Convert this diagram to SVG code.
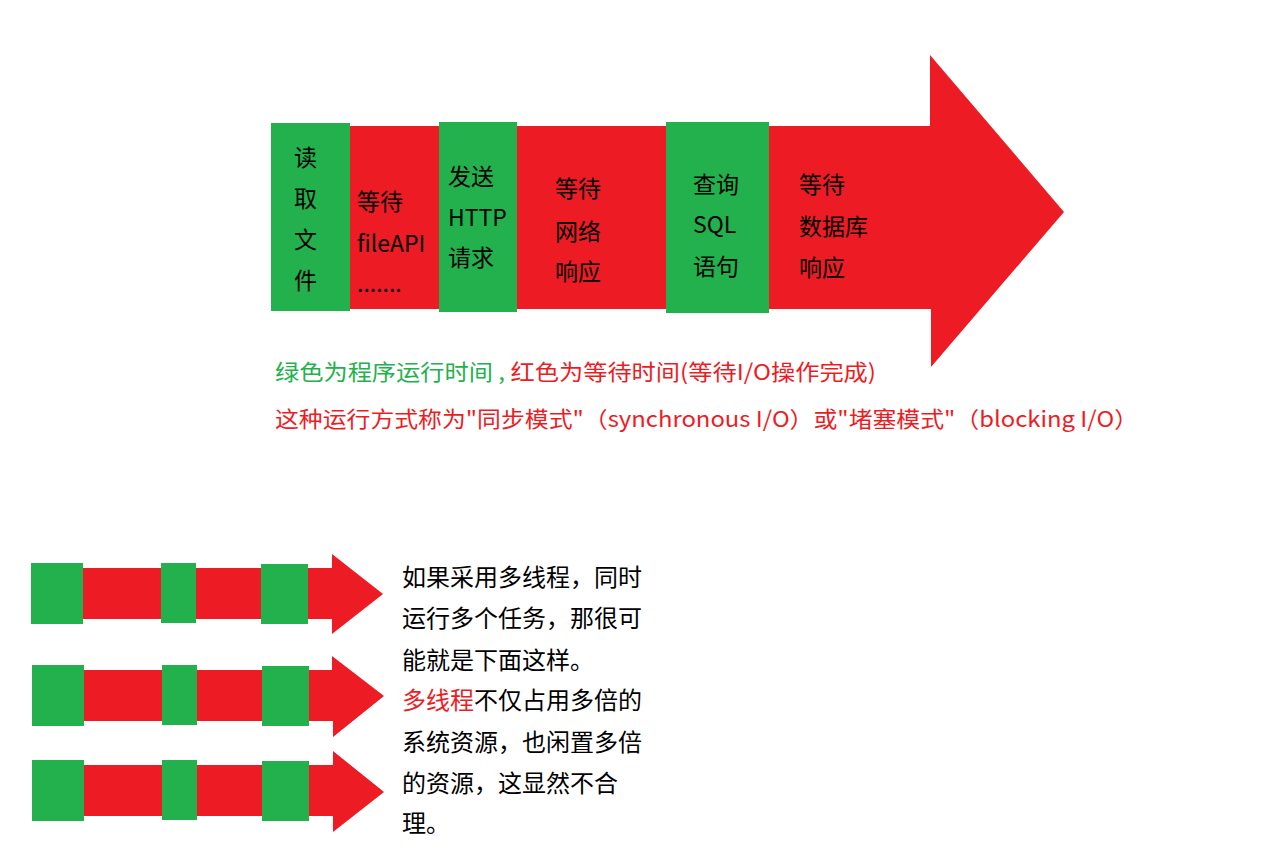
<svg xmlns="http://www.w3.org/2000/svg" width="1267" height="858" viewBox="0 0 1267 858">
<style>
.r{fill:#ED1C24}
.g{fill:#22B14C}
text{font-family:"Noto Sans CJK SC","Microsoft YaHei",sans-serif}
.t{font-size:23px;fill:#000}
.s{font-size:22px}
.n{font-size:24px;fill:#000}
</style>
<rect width="1267" height="858" fill="#fff"/>
<g id="main-arrow">
<polygon class="r" points="349,126 930,126 930,55 1064,212 931,367 931,309 349,309"/>
</g>
<g id="read-file">
<rect class="g" x="271" y="123" width="79" height="188"/>
<text class="t" x="294" y="166">读</text>
<text class="t" x="294" y="207">取</text>
<text class="t" x="294" y="248">文</text>
<text class="t" x="294" y="289">件</text>
</g>
<g id="wait-file">
<text class="t" x="357" y="210">等待</text>
<text class="t" x="357" y="252">fileAPI</text>
<text class="t" x="357" y="292">.......</text>
</g>
<g id="send-http">
<rect class="g" x="439" y="122" width="78" height="190"/>
<text class="t" x="448" y="185">发送</text>
<text class="t" x="448" y="226">HTTP</text>
<text class="t" x="448" y="266">请求</text>
</g>
<g id="wait-net">
<text class="t" x="555" y="197">等待</text>
<text class="t" x="555" y="240">网络</text>
<text class="t" x="555" y="280">响应</text>
</g>
<g id="query-sql">
<rect class="g" x="666" y="122" width="103" height="191"/>
<text class="t" x="693" y="193">查询</text>
<text class="t" x="693" y="233">SQL</text>
<text class="t" x="693" y="275">语句</text>
</g>
<g id="wait-db">
<text class="t" x="799" y="193">等待</text>
<text class="t" x="799" y="235">数据库</text>
<text class="t" x="799" y="276">响应</text>
</g>
<g id="caption">
<text class="s" x="275" y="380" textLength="601" lengthAdjust="spacingAndGlyphs"><tspan fill="#22B14C">绿色为程序运行时间 , </tspan><tspan fill="#ED1C24">红色为等待时间(等待I/O操作完成)</tspan></text>
<text class="s" x="275" y="427" fill="#ED1C24" textLength="863" lengthAdjust="spacingAndGlyphs">这种运行方式称为"同步模式"（synchronous I/O）或"堵塞模式"（blocking I/O）</text>
</g>
<g id="thread-1">
<polygon class="r" points="83,568 332,568 332,554 383,594 332,634 332,619 83,619"/>
<rect class="g" x="31" y="563" width="52" height="61"/>
<rect class="g" x="161" y="563" width="35" height="60"/>
<rect class="g" x="261" y="564" width="47" height="60"/>
</g>
<g id="thread-2">
<polygon class="r" points="84,670 332,670 332,656 384,696 333,737 333,721 84,721"/>
<rect class="g" x="32" y="665" width="52" height="61"/>
<rect class="g" x="162" y="665" width="35" height="60"/>
<rect class="g" x="262" y="666" width="47" height="60"/>
</g>
<g id="thread-3">
<polygon class="r" points="84,765 333,765 333,751 384,792 333,832 333,816 84,816"/>
<rect class="g" x="32" y="760" width="52" height="61"/>
<rect class="g" x="162" y="760" width="35" height="60"/>
<rect class="g" x="262" y="761" width="47" height="60"/>
</g>
<g id="note">
<text class="n" x="402" y="586">如果采用多线程，同时</text>
<text class="n" x="402" y="627">运行多个任务，那很可</text>
<text class="n" x="402" y="669">能就是下面这样。</text>
<text class="n" x="402" y="709"><tspan fill="#ED1C24">多线程</tspan>不仅占用多倍的</text>
<text class="n" x="402" y="751">系统资源，也闲置多倍</text>
<text class="n" x="402" y="792">的资源，这显然不合</text>
<text class="n" x="402" y="832">理。</text>
</g>
</svg>
